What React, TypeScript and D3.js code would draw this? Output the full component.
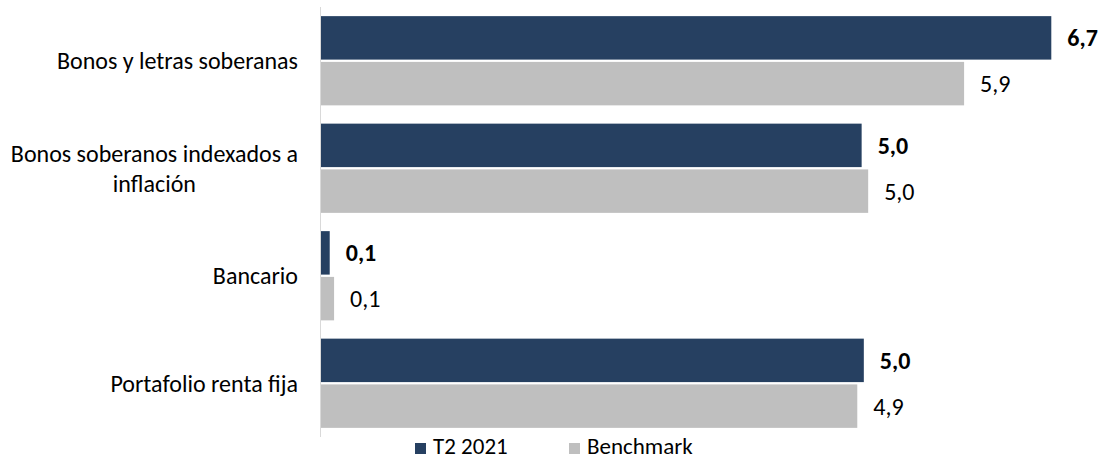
import { useRef, useEffect } from "react";
import * as d3 from "d3";

const categories = [
  ["Bonos y letras soberanas"],
  ["Bonos soberanos indexados a", "inflación"],
  ["Bancario"],
  ["Portafolio renta fija"],
];
const seriesNames = ["T2 2021", "Benchmark"];
const t2Values = [6.7, 4.96, 0.08, 4.98];
const benchmarkValues = [5.9, 5.02, 0.12, 4.92];

const colors = ["#264061", "#BFBFBF"];
const FONT = "Carlito, Calibri, Lato, sans-serif";

export default function App() {
  const svgRef = useRef<SVGSVGElement>(null);

  useEffect(() => {
    const svg = d3.select(svgRef.current);
    svg.selectAll("*").remove();

    const width = 1099;
    const height = 461;
    const fontSize = 24;
    const fmt = d3.formatLocale({ decimal: ",", thousands: ".", grouping: [3], currency: ["", ""] }).format(".1f");

    const x = d3.scaleLinear().domain([0, 7]).range([321, 1084]);
    const y = d3.scaleBand<number>()
      .domain(d3.range(categories.length))
      .range([7, 437])
      .paddingInner(0.17)
      .paddingOuter(0.085);
    const ySub = d3.scaleBand<number>()
      .domain([0, 1])
      .range([0, y.bandwidth()])
      .paddingInner(0.05);

    const series = [t2Values, benchmarkValues];

    // axis line
    svg.append("line")
      .attr("x1", 320.5).attr("x2", 320.5)
      .attr("y1", 7).attr("y2", 437)
      .attr("stroke", "#D9D9D9")
      .attr("stroke-width", 1);

    const groups = svg.selectAll("g.cat")
      .data(categories)
      .enter()
      .append("g")
      .attr("class", "cat")
      .attr("transform", (_, i) => `translate(0,${y(i)})`);

    series.forEach((vals, s) => {
      groups.append("rect")
        .attr("x", x(0))
        .attr("y", ySub(s)!)
        .attr("width", (_, i) => x(vals[i]) - x(0))
        .attr("height", ySub.bandwidth())
        .attr("fill", colors[s]);

      groups.append("text")
        .attr("x", (_, i) => x(vals[i]) + 16)
        .attr("y", ySub(s)! + ySub.bandwidth() / 2)
        .attr("dy", "0.35em")
        .style("font-family", FONT)
        .style("font-size", `${fontSize}px`)
        .style("font-weight", s === 0 ? "700" : "400")
        .style("fill", "#000")
        .text((_, i) => fmt(vals[i]));
    });

    // category labels (block right aligned, lines centered)
    const right = 298;
    const lineH = 30;
    categories.forEach((lines, i) => {
      const cy = y(i)! + y.bandwidth() / 2;
      const t = svg.append("text")
        .attr("text-anchor", "middle")
        .style("font-family", FONT)
        .style("font-size", `${fontSize}px`)
        .style("fill", "#000");
      const spans = lines.map((line, k) =>
        t.append("tspan")
          .attr("y", cy + (k - (lines.length - 1) / 2) * lineH)
          .attr("dy", "0.35em")
          .text(line)
      );
      const maxW = d3.max(spans, sp => (sp.node() as SVGTSpanElement).getComputedTextLength()) || 0;
      spans.forEach(sp => sp.attr("x", right - maxW / 2));
    });

    // legend
    const legendItems = [
      { name: seriesNames[0], x: 415 },
      { name: seriesNames[1], x: 569 },
    ];
    legendItems.forEach((item, i) => {
      svg.append("rect")
        .attr("x", item.x)
        .attr("y", 443)
        .attr("width", 11)
        .attr("height", 11)
        .attr("fill", colors[i]);
      svg.append("text")
        .attr("x", item.x + 18)
        .attr("y", 454)
        .style("font-family", FONT)
        .style("font-size", `${fontSize - 1}px`)
        .style("fill", "#000")
        .text(item.name);
    });

    svg.attr("width", width).attr("height", height);
  }, []);

  return (
    <svg
      ref={svgRef}
      width={1099}
      height={461}
      style={{ position: "absolute", left: 0, top: 0, background: "#fff" }}
    />
  );
}
